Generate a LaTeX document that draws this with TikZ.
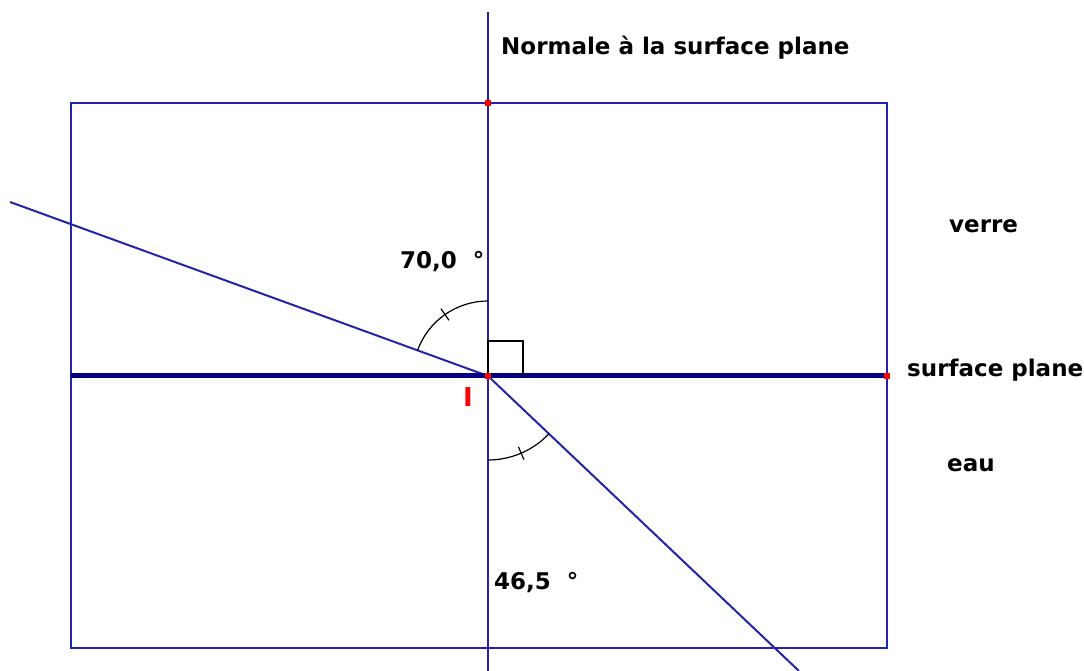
\documentclass[tikz,border=0pt]{standalone}
\usepackage{fontspec}
\setmainfont{DejaVu Sans}
\definecolor{rayblue}{RGB}{36,36,168}
\definecolor{surfblue}{RGB}{0,0,128}
\definecolor{dotred}{RGB}{255,0,0}
\tikzset{
  thinline/.style={draw=rayblue,line width=2pt},
  surfline/.style={draw=surfblue,line width=5pt},
  anglearc/.style={draw=black,line width=1.2pt},
  reddot/.style={rectangle,fill=dotred,inner sep=0pt,minimum size=6pt},
  lbl/.style={anchor=base west,inner sep=0pt,font=\fontsize{23}{27}\selectfont\bfseries},
}
\begin{document}
\begin{tikzpicture}[x=1pt,y=1pt]
\useasboundingbox (0,0) rectangle (1084,671);
% key points
\coordinate (I) at (488,295);
\coordinate (NT) at (488,659);
\coordinate (NB) at (488,0);
\coordinate (SL) at (71,295);
\coordinate (SR) at (887,295);
\coordinate (BL) at (71,23);
\coordinate (TR) at (887,568);
\coordinate (TM) at (488,568);
\coordinate (Inc) at (10,469);
\coordinate (Ref) at (799,0);
% container
\draw[thinline] (BL) rectangle (TR);
% normal
\draw[thinline] (NT) -- (NB);
% rays
\draw[thinline] (Inc) -- (I);
\draw[thinline] (I) -- (Ref);
% surface
\draw[surfline] (SL) -- (SR);
% right angle mark
\draw[anglearc] (I) -- ++(0,35) -- ++(35,0) -- ++(0,-35);
% incidence angle arc
\draw[anglearc] (I) ++(90:75pt) arc[start angle=90,end angle=160,radius=75pt];
\draw[anglearc] (I) ++(125:68pt) -- ++(125:14pt);
% refraction angle arc
\draw[anglearc] (I) ++(-90:84pt) arc[start angle=-90,end angle=-43.5,radius=84pt];
\draw[anglearc] (I) ++(-66.75:77pt) -- ++(-66.75:14pt);
% red points
\node[reddot] (dI) at (I) {};
\node[reddot] (dT) at (TM) {};
\node[reddot] (dR) at (SR) {};
% labels
\node[lbl] (normale) at (501,616) {Normale à la surface plane};
\node[lbl] (a1) at (400,402) {70,0\hspace{16pt}°};
\node[lbl] (a2) at (494,81) {46,5\hspace{16pt}°};
\node[lbl] (verre) at (949,438) {verre};
\node[lbl] (surf) at (907,294) {surface plane};
\node[lbl] (eau) at (947,199) {eau};
\node[lbl,text=dotred,font=\fontsize{26}{30}\selectfont\bfseries] (lI) at (463,264) {I};
\end{tikzpicture}
\end{document}
